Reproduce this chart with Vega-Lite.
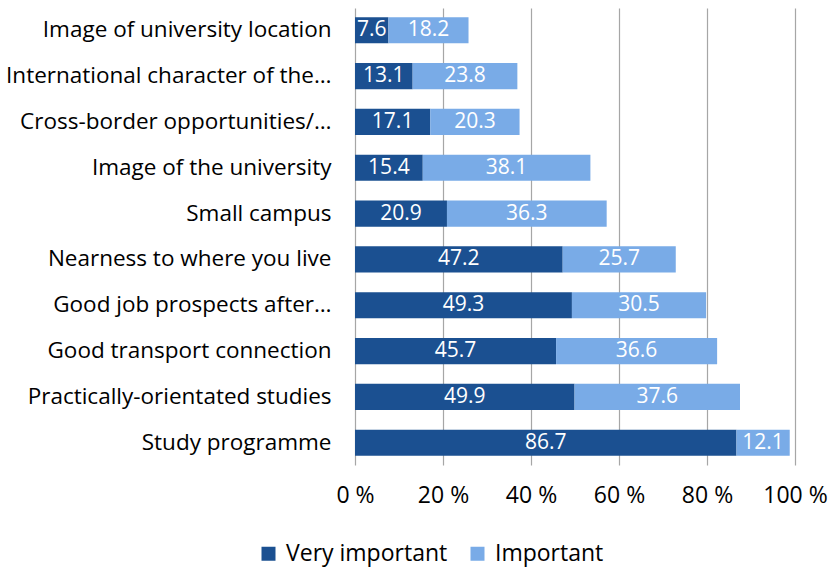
{
  "$schema": "https://vega.github.io/schema/vega-lite/v6.json",
  "autosize": {"type": "none"},
  "width": 440,
  "height": 457,
  "padding": {"left": 355, "top": 8, "right": 36, "bottom": 102},
  "background": "white",
  "config": {
    "font": "Open Sans",
    "view": {"stroke": null}
  },
  "data": {
    "values": [
      {"cat": "Image of university location", "level": "Very important", "ord": 1, "value": 7.6},
      {"cat": "Image of university location", "level": "Important", "ord": 2, "value": 18.2},
      {"cat": "International character of the…", "level": "Very important", "ord": 1, "value": 13.1},
      {"cat": "International character of the…", "level": "Important", "ord": 2, "value": 23.8},
      {"cat": "Cross-border opportunities/…", "level": "Very important", "ord": 1, "value": 17.1},
      {"cat": "Cross-border opportunities/…", "level": "Important", "ord": 2, "value": 20.3},
      {"cat": "Image of the university", "level": "Very important", "ord": 1, "value": 15.4},
      {"cat": "Image of the university", "level": "Important", "ord": 2, "value": 38.1},
      {"cat": "Small campus", "level": "Very important", "ord": 1, "value": 20.9},
      {"cat": "Small campus", "level": "Important", "ord": 2, "value": 36.3},
      {"cat": "Nearness to where you live", "level": "Very important", "ord": 1, "value": 47.2},
      {"cat": "Nearness to where you live", "level": "Important", "ord": 2, "value": 25.7},
      {"cat": "Good job prospects after…", "level": "Very important", "ord": 1, "value": 49.3},
      {"cat": "Good job prospects after…", "level": "Important", "ord": 2, "value": 30.5},
      {"cat": "Good transport connection", "level": "Very important", "ord": 1, "value": 45.7},
      {"cat": "Good transport connection", "level": "Important", "ord": 2, "value": 36.6},
      {"cat": "Practically-orientated studies", "level": "Very important", "ord": 1, "value": 49.9},
      {"cat": "Practically-orientated studies", "level": "Important", "ord": 2, "value": 37.6},
      {"cat": "Study programme", "level": "Very important", "ord": 1, "value": 86.7},
      {"cat": "Study programme", "level": "Important", "ord": 2, "value": 12.1}
    ]
  },
  "transform": [
    {"stack": "value", "groupby": ["cat"], "sort": [{"field": "ord", "order": "ascending"}], "as": ["v0", "v1"]},
    {"calculate": "(datum.v0 + datum.v1) / 2", "as": "mid"}
  ],
  "encoding": {
    "y": {
      "field": "cat",
      "type": "nominal",
      "sort": [
        "Image of university location",
        "International character of the…",
        "Cross-border opportunities/…",
        "Image of the university",
        "Small campus",
        "Nearness to where you live",
        "Good job prospects after…",
        "Good transport connection",
        "Practically-orientated studies",
        "Study programme"
      ],
      "scale": {"paddingInner": 0.43, "paddingOuter": 0.2},
      "axis": {
        "title": null,
        "domain": false,
        "ticks": false,
        "labelFontSize": 22.5,
        "labelColor": "#000000",
        "labelPadding": 24,
        "labelLimit": 360
      }
    }
  },
  "layer": [
    {
      "mark": {"type": "bar", "stroke": null},
      "encoding": {
        "x": {
          "field": "v0",
          "type": "quantitative",
          "scale": {"domain": [0, 100], "nice": false},
          "axis": {
            "title": null,
            "values": [0, 20, 40, 60, 80, 100],
            "labelExpr": "datum.value + ' %'",
            "labelOverlap": false,
            "labelFlush": false,
            "labelBound": false,
            "domain": false,
            "ticks": false,
            "grid": true,
            "gridColor": "#A6A6A6",
            "gridWidth": 1.2,
            "labelFontSize": 23,
            "labelColor": "#000000",
            "labelPadding": 19
          }
        },
        "x2": {"field": "v1"},
        "color": {
          "field": "level",
          "type": "nominal",
          "scale": {"domain": ["Very important", "Important"], "range": ["#1B5091", "#79ABE7"]},
          "legend": {
            "title": null,
            "orient": "none",
            "direction": "horizontal",
            "legendX": -98,
            "legendY": 534,
            "symbolType": "square",
            "symbolSize": 196,
            "symbolStrokeWidth": 0,
            "labelFontSize": 23,
            "labelLimit": 300,
            "labelColor": "#000000",
            "columnPadding": 18,
            "labelOffset": 6
          }
        },
        "order": {"field": "ord"}
      }
    },
    {
      "mark": {"type": "text", "color": "white", "fontSize": 21, "baseline": "middle", "align": "center"},
      "encoding": {
        "x": {"field": "mid", "type": "quantitative"},
        "text": {"field": "value", "type": "quantitative", "format": ".1f"}
      }
    }
  ]
}
